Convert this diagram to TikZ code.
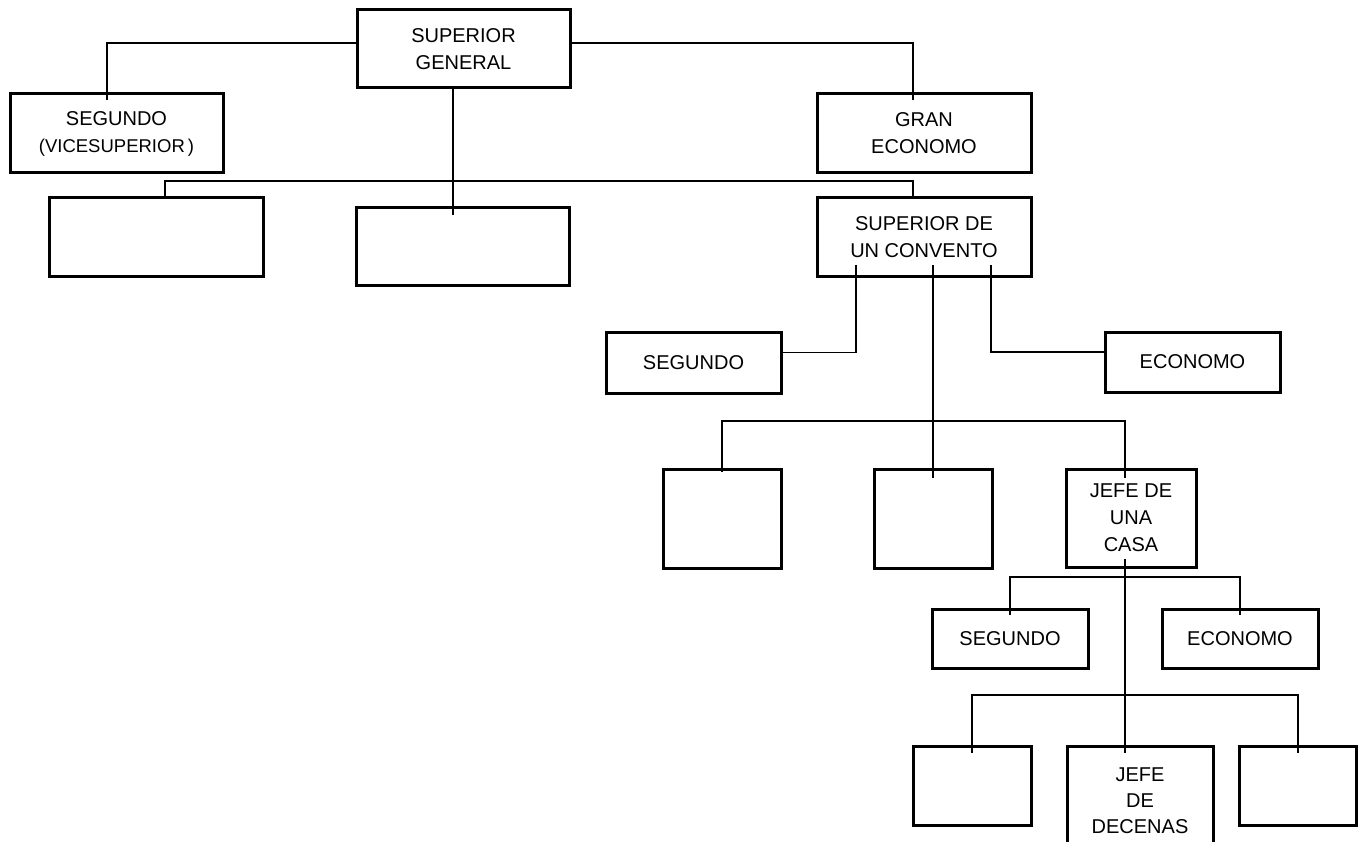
\documentclass[tikz,border=0pt]{standalone}
\usepackage{fontspec}
\setmainfont{Liberation Sans}
\usetikzlibrary{calc}

\tikzset{
  unit/.style={draw=black, line width=3pt, rectangle, inner sep=0pt, outer sep=0pt,
    align=center, font=\fontsize{20}{27}\selectfont},
  wire/.style={draw=black, line width=1.3pt}
}

\begin{document}
\begin{tikzpicture}[x=1pt,y=-1pt]
  \useasboundingbox (0,0) rectangle (1360,842);
  \clip (0,0) rectangle (1360,842);

  % top level
  \node[unit, minimum width=213pt, minimum height=78pt] (sg) at (463.5,49) {SUPERIOR\\GENERAL};
  \node[unit, minimum width=213pt, minimum height=79pt] (vice) at (116.5,133.5)
    {SEGUNDO\\{\fontsize{18.5}{27}\selectfont(VICESUPERIOR\,)}};
  \node[unit, minimum width=214pt, minimum height=79pt] (gran) at (924,133.5) {GRAN\\ECONOMO};

  % second level
  \node[unit, minimum width=214pt, minimum height=79pt] (e1) at (156,237.5) {};
  \node[unit, minimum width=213pt, minimum height=78pt] (e2) at (462.5,247) {};
  \node[unit, minimum width=214pt, minimum height=79pt] (conv) at (924,237.5) {SUPERIOR DE\\UN CONVENTO};

  % convent officers
  \node[unit, minimum width=175pt, minimum height=61pt] (seg2) at (693.5,362.5) {SEGUNDO};
  \node[unit, minimum width=175pt, minimum height=60pt] (eco2) at (1192.5,362) {ECONOMO};

  % houses
  \node[unit, minimum width=118pt, minimum height=99pt] (m1) at (722,518.5) {};
  \node[unit, minimum width=118pt, minimum height=99pt] (m2) at (933,518.5) {};
  \node[unit, minimum width=130pt, minimum height=98pt] (jefe) at (1131,518) {JEFE DE\\UNA\\CASA};

  % house officers
  \node[unit, minimum width=156pt, minimum height=59pt] (seg3) at (1010,638.5) {SEGUNDO};
  \node[unit, minimum width=156pt, minimum height=59pt] (eco3) at (1240,638.5) {ECONOMO};

  % tens
  \node[unit, minimum width=118pt, minimum height=79pt] (b1) at (972,785.5) {};
  \node[unit, minimum width=146pt, minimum height=110pt, font=\fontsize{20}{26}\selectfont] (dec) at (1140,801) {JEFE\\DE\\DECENAS};
  \node[unit, minimum width=117pt, minimum height=79pt] (b3) at (1297.5,785.5) {};

  % connectors from the superior general
  \draw[wire] ($(sg.west)+(0,-6)$) -| ($(vice.north west)+(97,6)$);
  \draw[wire] ($(sg.east)+(0,-6)$) -| ($(gran.north west)+(96,6)$);
  \draw[wire] ($(sg.south)+(-10.5,0)$) -- ($(e2.north)+(-9.5,7)$);
  \draw[wire] ($(e1.north west)+(116,0)$) -- ++(0,-17) -| ($(conv.north west)+(96,0)$);

  % connectors from the convent superior
  \draw[wire] ($(conv.south west)+(39,-12)$) |- ($(seg2.east)+(0,-10)$);
  \draw[wire] ($(conv.south west)+(174,-12)$) |- ($(eco2.west)+(0,-10)$);
  \draw[wire] ($(conv.south)+(9,-12)$) -- ($(m2.north)+(0,9)$);
  \draw[wire] ($(m1.north)+(0,3)$) -- ++(0,-51) -| ($(jefe.north west)+(59,9)$);

  % connectors from the head of a house
  \draw[wire] ($(jefe.south west)+(59,-8)$) -- ($(dec.north west)+(58,7)$);
  \draw[wire] ($(seg3.north)+(0,6)$) -- ++(0,-38) -| ($(eco3.north)+(0,6)$);
  \draw[wire] ($(b1.north)+(0,7)$) -- ++(0,-58) -| ($(b3.north)+(0.5,7)$);
\end{tikzpicture}
\end{document}
